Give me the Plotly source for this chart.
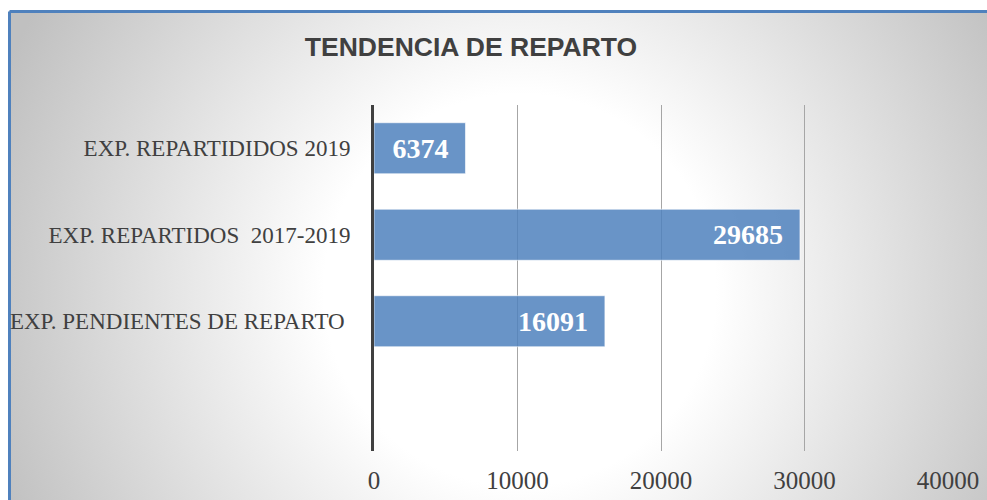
import base64
import plotly.graph_objects as go

# ---- data ----
categories = ["EXP. PENDIENTES DE REPARTO\u00a0", "EXP. REPARTIDOS\u00a0\u00a02017-2019", "EXP. REPARTIDIDOS 2019"]
values = [16091, 29685, 6374]
x_ticks = [0, 10000, 20000, 30000, 40000]
title_text = "TENDENCIA DE REPARTO"

W, H = 987, 500
ML, MR, MT, MB = 374, 39, 105, 49
pw, ph = W - ML - MR, H - MT - MB

svg = f'''<svg xmlns="http://www.w3.org/2000/svg" width="{W}" height="{H}" viewBox="0 0 {W} {H}" preserveAspectRatio="none">
<defs><radialGradient id="g" gradientUnits="userSpaceOnUse" cx="520" cy="290" r="560">
<stop offset="0" stop-color="#ffffff"/><stop offset="0.35" stop-color="#ffffff"/>
<stop offset="1" stop-color="#c0c0c0"/></radialGradient></defs>
<rect x="0" y="0" width="{W}" height="{H}" fill="#ffffff"/>
<rect x="9" y="11" width="{W + 20}" height="{H + 20}" fill="url(#g)"/>
<line x1="9.5" y1="11.5" x2="{W + 20}" y2="11.5" stroke="#4f81bd" stroke-width="3"/>
<line x1="9.5" y1="11.5" x2="9.5" y2="{H + 20}" stroke="#4f81bd" stroke-width="3"/>
</svg>'''
src = "data:image/svg+xml;base64," + base64.b64encode(svg.encode()).decode()

pad = "\u00a0\u00a0"
fig = go.Figure(go.Bar(
    y=categories, x=values, orientation="h",
    marker=dict(color="rgba(79,129,189,0.85)", line=dict(color="rgba(255,255,255,0.6)", width=1)),
    width=0.59,
    text=[f"{v}{pad}" for v in values], textposition="inside", insidetextanchor="end",
    textfont=dict(family="Liberation Serif", size=28, color="white", weight="bold"),
    cliponaxis=False, hoverinfo="skip",
))

fig.update_layout(
    width=W, height=H, autosize=False,
    margin=dict(l=ML, r=MR, t=MT, b=MB, pad=0, autoexpand=False),
    paper_bgcolor="white", plot_bgcolor="rgba(0,0,0,0)",
    title=dict(text=title_text, x=471 / W, xanchor="center",
               y=1 - 47 / H, yanchor="middle",
               font=dict(family="Liberation Sans", size=26.5, color="#404040", weight="bold")),
    images=[dict(source=src, xref="paper", yref="paper",
                 x=-ML / pw, y=1 + MT / ph, sizex=W / pw, sizey=H / ph,
                 xanchor="left", yanchor="top", sizing="stretch", layer="below")],
    showlegend=False,
)
fig.update_xaxes(range=[0, 40000], tickvals=x_ticks, ticktext=[str(t) for t in x_ticks],
                 showgrid=True, gridcolor="#a6a6a6", gridwidth=1, zeroline=False,
                 showline=False, ticks="", ticklabelstandoff=12, automargin=False,
                 tickfont=dict(family="Liberation Serif", size=25, color="#404040"))
fig.update_yaxes(categoryorder="array", categoryarray=categories, range=[-1.5, 2.5],
                 showgrid=False, zeroline=False, showline=True, linecolor="#404040", linewidth=3,
                 ticks="", ticklabelstandoff=16, automargin=False,
                 tickfont=dict(family="Liberation Serif", size=23, color="#404040"))

fig.write_html("out.html", config={"displayModeBar": False, "responsive": False},
               post_script="document.body.style.margin='0';document.body.style.overflow='hidden';")
